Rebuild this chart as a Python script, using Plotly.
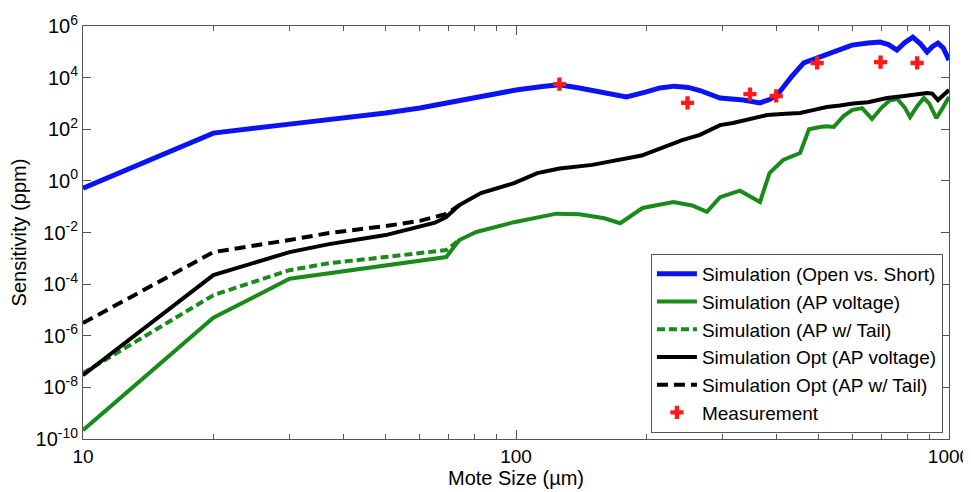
import plotly.graph_objects as go

# ---------------- data ----------------
blue_x = [10, 20, 30, 40, 50, 60, 75, 90, 100, 115, 126, 140, 160, 180, 200, 215, 232, 250, 266, 296,
          335, 366, 385, 401, 432, 462, 504, 522, 560, 597, 650, 693, 725, 758, 790, 825, 860, 890,
          915, 943, 970, 1000]
blue_y = [0.525, 70.8, 158, 263, 427, 661, 1318, 2399, 3311, 4571, 5248, 3981, 2512, 1778, 2818, 3981,
          4677, 4169, 3162, 1622, 1349, 1047, 1413, 2138, 10470, 37150, 63100, 79430, 117500, 182000,
          218800, 239900, 190500, 117500, 223900, 371500, 199500, 97700, 158500, 218800, 141300, 47860]

green_x = [10, 20, 30, 37, 50, 69, 74, 81, 99, 112, 124, 140, 160, 174, 196, 231, 255, 276, 296, 329,
           366, 385, 414, 453, 475, 504, 522, 542, 570, 597, 630, 664, 700, 730, 760, 790, 813, 845,
           875, 900, 935, 965, 1000]
green_y = [2.19e-10, 5.01e-6, 1.62e-4, 2.69e-4, 5.25e-4, 1.12e-3, 5.13e-3, 1.05e-2, 2.51e-2, 3.98e-2,
           5.37e-2, 5.13e-2, 3.55e-2, 2.29e-2, 8.91e-2, 0.151, 0.112, 0.0631, 0.234, 0.417,
           0.151, 2.0, 6.46, 12.0, 100, 123, 132, 123, 316, 550, 661, 251, 708, 1318, 1479, 708,
           295, 794, 1622, 1000, 269, 631, 1778]

green_tail_x = [10, 20, 30, 37, 50, 69, 74]
green_tail_y = [3.55e-8, 3.72e-5, 3.47e-4, 6.46e-4, 1.12e-3, 2.09e-3, 5.13e-3]

black_x = [10, 20, 30, 37, 50, 58, 65, 69, 74, 83, 99, 112, 126, 150, 171, 195, 215, 242, 266, 296,
           317, 350, 380, 420, 453, 485, 522, 560, 600, 650, 719, 780, 830, 890, 915, 943, 1000]
black_y = [2.95e-8, 2.24e-4, 1.74e-3, 3.55e-3, 7.94e-3, 1.41e-2, 2.40e-2, 3.98e-2, 0.115, 0.339,
           0.813, 2.0, 3.02, 4.17, 6.31, 9.55, 17.8, 38.0, 60.3, 144.5, 173.8, 251, 355, 398, 427,
           550, 724, 832, 1000, 1122, 1622, 1905, 2138, 2512, 2399, 1349, 3311]

black_tail_x = [10, 20, 30, 37, 50, 60, 69, 74]
black_tail_y = [3.09e-6, 1.74e-3, 5.13e-3, 9.55e-3, 1.78e-2, 2.82e-2, 5.25e-2, 0.115]

meas_x = [126, 249, 347, 399, 496, 695, 844]
meas_y = [5600, 1050, 2300, 1950, 37000, 40000, 37000]

y_tick_vals = [1e-10, 1e-8, 1e-6, 1e-4, 1e-2, 1, 1e2, 1e4, 1e6]
y_tick_text = ["10<sup>-10</sup>", "10<sup>-8</sup>", "10<sup>-6</sup>", "10<sup>-4</sup>",
               "10<sup>-2</sup>", "10<sup>0</sup>", "10<sup>2</sup>", "10<sup>4</sup>", "10<sup>6</sup>"]
x_tick_vals = [10, 100, 1000]
x_tick_text = ["10", "100", "1000"]
x_minor_vals = [20, 30, 40, 50, 60, 70, 80, 90, 200, 300, 400, 500, 600, 700, 800, 900]

names = ["Simulation (Open vs. Short)", "Simulation (AP voltage)", "Simulation (AP w/ Tail)",
         "Simulation Opt (AP voltage)", "Simulation Opt (AP w/ Tail)", "Measurement"]

# ---------------- figure ----------------
BLUE = "#0a14f0"
GREEN = "#1a8a1a"
BLACK = "#000000"

fig = go.Figure()
fig.add_trace(go.Scatter(x=green_tail_x, y=green_tail_y, mode="lines", name=names[2], legendrank=3,
                         line=dict(color=GREEN, width=4, dash="8px,4px")))
fig.add_trace(go.Scatter(x=green_x, y=green_y, mode="lines", name=names[1], legendrank=2,
                         line=dict(color=GREEN, width=4)))
fig.add_trace(go.Scatter(x=black_tail_x, y=black_tail_y, mode="lines", name=names[4], legendrank=5,
                         line=dict(color=BLACK, width=4, dash="11px,6px")))
fig.add_trace(go.Scatter(x=black_x, y=black_y, mode="lines", name=names[3], legendrank=4,
                         line=dict(color=BLACK, width=4)))
fig.add_trace(go.Scatter(x=blue_x, y=blue_y, mode="lines", name=names[0], legendrank=1,
                         line=dict(color=BLUE, width=5)))
fig.add_trace(go.Scatter(x=meas_x, y=meas_y, mode="markers", name=names[5], legendrank=6,
                         marker=dict(symbol="cross", color="#ff1a1a", size=11, line=dict(width=0))))

AXCOL = "#555555"
# the page body adds an 8px offset, so the figure is sized to fit the 971x492 window
fig.update_layout(
    width=963, height=484,
    margin=dict(l=75, r=22, t=18, b=53),
    paper_bgcolor="white", plot_bgcolor="white",
    font=dict(family="Liberation Sans, Arial, sans-serif", size=20, color="black"),
    showlegend=True,
    legend=dict(x=0.993, y=0.0145, xanchor="right", yanchor="bottom",
                bgcolor="white", bordercolor=AXCOL, borderwidth=1,
                font=dict(size=19), tracegroupgap=0, itemwidth=40),
    xaxis=dict(type="log", range=[1, 3], tickmode="array", tickvals=x_tick_vals, ticktext=x_tick_text,
               ticks="inside", ticklen=9, tickcolor=AXCOL, showline=True, linecolor=AXCOL, linewidth=1,
               mirror="allticks", showgrid=False, zeroline=False, automargin=False,
               minor=dict(tickmode="array", tickvals=x_minor_vals, ticks="inside", ticklen=5,
                          tickcolor=AXCOL, showgrid=False),
               title=dict(text="Mote Size (µm)", standoff=2, font=dict(size=20)),
               tickfont=dict(size=19)),
    yaxis=dict(type="log", range=[-10, 6], tickmode="array", tickvals=y_tick_vals, ticktext=y_tick_text,
               ticks="inside", ticklen=8, tickcolor=AXCOL, showline=True, linecolor=AXCOL, linewidth=1,
               mirror="allticks", showgrid=False, zeroline=False, automargin=False,
               title=dict(text="Sensitivity (ppm)", standoff=6, font=dict(size=20)),
               tickfont=dict(size=20)),
)

fig.write_html("out.html")
